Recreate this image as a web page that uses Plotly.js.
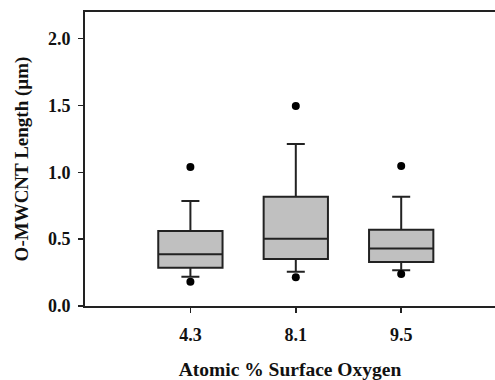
<!DOCTYPE html>
<html>
<head>
<meta charset="utf-8">
<script src="https://cdn.plot.ly/plotly-3.0.1.min.js"></script>
<style>html,body{margin:0;padding:0;background:#fff;}#chart{width:495px;height:380px;}</style>
</head>
<body>
<div id="chart"></div>
<script>
var categories = ['4.3', '8.1', '9.5'];
var q1 = [0.287, 0.352, 0.329];
var medians = [0.387, 0.503, 0.431];
var q3 = [0.561, 0.818, 0.571];
var lowerWhisker = [0.219, 0.257, 0.267];
var upperWhisker = [0.785, 1.212, 0.818];
var outlierX = ['4.3', '4.3', '8.1', '8.1', '9.5', '9.5'];
var outlierY = [1.04, 0.182, 1.496, 0.215, 1.047, 0.239];
var yTicks = [0, 0.5, 1.0, 1.5, 2.0];

var font = {family: '"Liberation Serif", "Times New Roman", serif', color: '#111'};

var traces = [
  {
    type: 'box',
    x: categories,
    q1: q1,
    median: medians,
    q3: q3,
    lowerfence: lowerWhisker,
    upperfence: upperWhisker,
    width: 0.61,
    whiskerwidth: 0.28,
    fillcolor: '#c0c0c0',
    line: {color: '#222', width: 2},
    boxpoints: false,
    hoverinfo: 'skip',
    showlegend: false
  },
  {
    type: 'scatter',
    mode: 'markers',
    x: outlierX,
    y: outlierY,
    marker: {color: '#000', size: 8},
    hoverinfo: 'skip',
    showlegend: false
  }
];

var layout = {
  width: 495,
  height: 380,
  margin: {l: 85, r: 0, t: 12, b: 74},
  paper_bgcolor: '#fff',
  plot_bgcolor: '#fff',
  font: Object.assign({size: 18, weight: 'bold'}, font),
  showlegend: false,
  xaxis: {
    type: 'category',
    categoryorder: 'array',
    categoryarray: categories,
    range: [-1, 2.89],
    showgrid: false,
    zeroline: false,
    showline: true,
    mirror: true,
    linecolor: '#222',
    linewidth: 2,
    ticks: 'outside',
    ticklen: 5,
    tickwidth: 1.5,
    tickcolor: '#222',
    ticklabelstandoff: 6,
    tickfont: Object.assign({size: 18, weight: 'bold'}, font),
    title: {text: 'Atomic % Surface Oxygen', font: Object.assign({size: 19.5, weight: 'bold'}, font), standoff: 28}
  },
  yaxis: {
    range: [0, 2.2],
    tickvals: yTicks,
    ticktext: yTicks.map(function(v){return v.toFixed(1);}),
    showgrid: false,
    zeroline: false,
    showline: true,
    linecolor: '#222',
    linewidth: 2,
    ticks: 'outside',
    ticklen: 5,
    tickwidth: 1.5,
    tickcolor: '#222',
    ticklabelstandoff: 4,
    tickfont: Object.assign({size: 18, weight: 'bold'}, font),
    title: {text: 'O-MWCNT Length (µm)', font: Object.assign({size: 19, weight: 'bold'}, font), standoff: 14}
  }
};

Plotly.newPlot('chart', traces, layout, {staticPlot: true, displayModeBar: false});
</script>
</body>
</html>
